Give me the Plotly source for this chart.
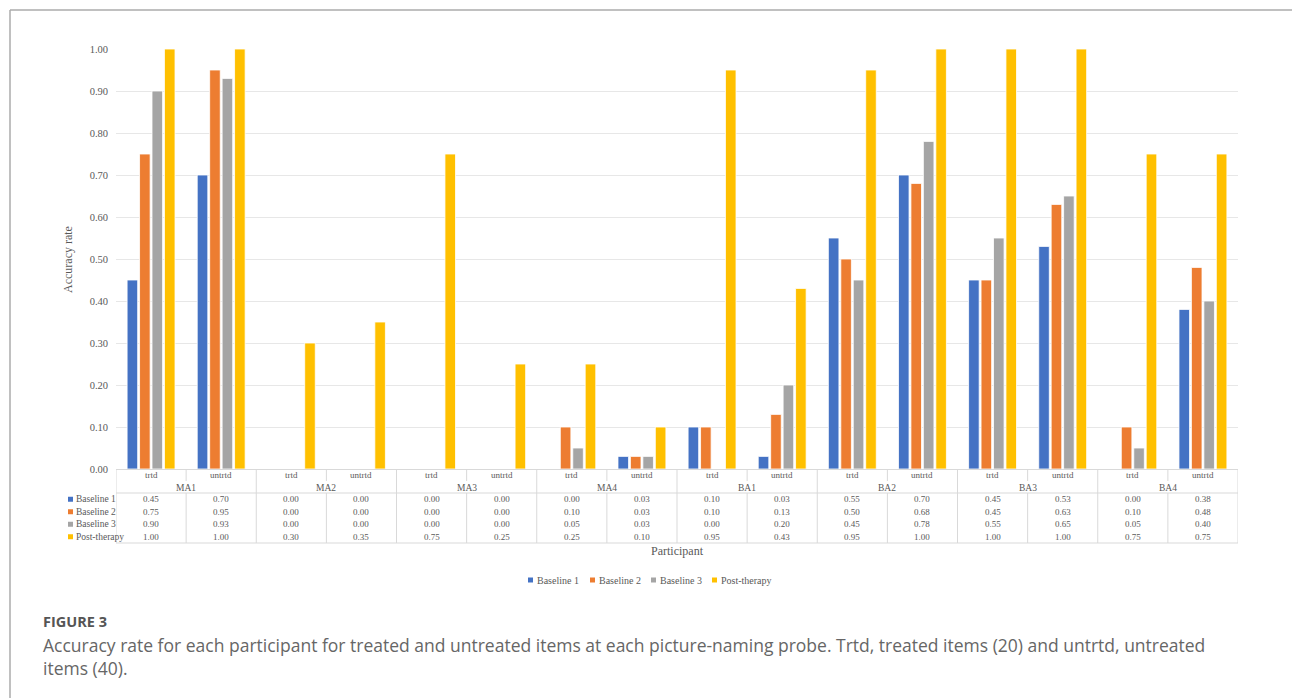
import plotly.graph_objects as go

# ---- data ---------------------------------------------------------------
participants = ["MA1", "MA2", "MA3", "MA4", "BA1", "BA2", "BA3", "BA4"]
conditions = ["trtd", "untrtd"]
series_names = ["Baseline 1", "Baseline 2", "Baseline 3", "Post-therapy"]

baseline_1 = [0.45, 0.70, 0.00, 0.00, 0.00, 0.00, 0.00, 0.03,
              0.10, 0.03, 0.55, 0.70, 0.45, 0.53, 0.00, 0.38]
baseline_2 = [0.75, 0.95, 0.00, 0.00, 0.00, 0.00, 0.10, 0.03,
              0.10, 0.13, 0.50, 0.68, 0.45, 0.63, 0.10, 0.48]
baseline_3 = [0.90, 0.93, 0.00, 0.00, 0.00, 0.00, 0.05, 0.03,
              0.00, 0.20, 0.45, 0.78, 0.55, 0.65, 0.05, 0.40]
post_therapy = [1.00, 1.00, 0.30, 0.35, 0.75, 0.25, 0.25, 0.10,
                0.95, 0.43, 0.95, 1.00, 1.00, 1.00, 0.75, 0.75]

y_ticks = [0.0, 0.1, 0.2, 0.3, 0.4, 0.5, 0.6, 0.7, 0.8, 0.9, 1.0]

series_values = [baseline_1, baseline_2, baseline_3, post_therapy]
colors = ["#4472C4", "#ED7D31", "#A5A5A5", "#FFC000"]

# ---- geometry helpers (page pixels -> paper coordinates) ----------------
W, H = 1292, 698
L, R, T, B = 116, 54, 49, 229
PW, PH = W - L - R, H - T - B
n_cols = len(participants) * len(conditions)
col_px = PW / n_cols


def px(xp):
    return (xp - L) / PW


def py(yp):
    return (H - B - yp) / PH


def xd(xp):
    # page pixel -> x data coordinate
    return (xp - L) / col_px - 0.5


x_pos = list(range(n_cols))
cond_labels = [conditions[i % 2] for i in x_pos]

TEXT = "#595959"
LINE = "#D9D9D9"
SERIF = "Liberation Serif"

fig = go.Figure()
for name, vals, col in zip(series_names, series_values, colors):
    fig.add_trace(go.Bar(
        x=x_pos, y=vals, name=name,
        marker=dict(color=col, line=dict(color="white", width=0.8)),
        showlegend=False,
    ))

shapes = []
annotations = []


def hline(x0, x1, yp, xref="x"):
    shapes.append(dict(type="line", xref=xref, yref="paper", x0=x0, x1=x1,
                       y0=py(yp), y1=py(yp), line=dict(color=LINE, width=1)))


def vline(x, y0p, y1p, xref="x"):
    shapes.append(dict(type="line", xref=xref, yref="paper", x0=x, x1=x,
                       y0=py(y0p), y1=py(y1p), line=dict(color=LINE, width=1)))


def label(x, yp, text, size, xref="x", xanchor="center", **kw):
    annotations.append(dict(x=x, y=py(yp), xref=xref, yref="paper", text=text,
                            showarrow=False, xanchor=xanchor, yanchor="middle",
                            font=dict(family=kw.pop("family", SERIF), size=size,
                                      color=kw.pop("color", TEXT)), **kw))


# ---- data table under the axis -----------------------------------------
top, mid, hdr, bot = 469.5, 481, 493, 543
row_h = (bot - hdr) / len(series_names)
left_px = 65

hline(-0.5, n_cols - 0.5, top)
hline(xd(left_px), n_cols - 0.5, hdr)
hline(xd(left_px), n_cols - 0.5, bot)
vline(xd(left_px), hdr, bot)
for k in range(len(participants) + 1):
    vline(2 * k - 0.5, top, bot)
for k in range(len(participants)):
    vline(2 * k + 0.5, top, mid)
    vline(2 * k + 0.5, hdr, bot)

for i in x_pos:
    label(i, (top + mid) / 2, cond_labels[i], 9)
for k, p in enumerate(participants):
    label(2 * k + 0.5, (mid + hdr) / 2 + 0.5, p, 9.5)
for r, (name, vals, col) in enumerate(zip(series_names, series_values, colors)):
    yc = hdr + row_h * (r + 0.5)
    shapes.append(dict(type="rect", xref="paper", yref="paper",
                       x0=px(68), x1=px(73), y0=py(yc + 2.5), y1=py(yc - 2.5),
                       fillcolor=col, line=dict(width=0)))
    label(px(73.5), yc, name, 9.5, xref="paper", xanchor="left")
    for i, v in enumerate(vals):
        label(i, yc, f"{v:.2f}", 9)

# axis titles
annotations.append(dict(x=px(68), y=py(260), xref="paper", yref="paper",
                        xanchor="center", yanchor="middle",
                        text="Accuracy rate", textangle=-90, showarrow=False,
                        font=dict(family=SERIF, size=12, color=TEXT)))
label(0.5, 551, "Participant", 12, xref="paper")

# ---- legend below the table ---------------------------------------------
legend_x = [528, 590, 651, 712]
for lx, name, col in zip(legend_x, series_names, colors):
    shapes.append(dict(type="rect", xref="paper", yref="paper",
                       x0=px(lx), x1=px(lx + 5), y0=py(582.5), y1=py(577.5),
                       fillcolor=col, line=dict(width=0)))
    label(px(lx + 6.5), 580, name, 10, xref="paper", xanchor="left")

# ---- card frame and caption --------------------------------------------
frame = dict(color="#ABABAB", width=1.5)
shapes.append(dict(type="line", xref="paper", yref="paper", x0=px(10), x1=px(W),
                   y0=py(10), y1=py(10), line=frame))
shapes.append(dict(type="line", xref="paper", yref="paper", x0=px(10), x1=px(10),
                   y0=py(10), y1=py(H), line=frame))

label(px(41), 621, "<b>FIGURE 3</b>", 14.5, xref="paper", xanchor="left",
      family="Open Sans", color="#555555")
caption_lines = [
    "Accuracy rate for each participant for treated and untreated items at each "
    "picture-naming probe. Trtd, treated items (20) and untrtd, untreated",
    "items (40).",
]
for j, line in enumerate(caption_lines):
    label(px(41), 645 + 23 * j, line, 17.5, xref="paper", xanchor="left",
          family="Open Sans", color="#666666")

fig.update_layout(
    width=W, height=H,
    margin=dict(l=L, r=R, t=T, b=B),
    paper_bgcolor="white", plot_bgcolor="white",
    barmode="group", bargap=0.29, bargroupgap=0.15,
    shapes=shapes, annotations=annotations,
    xaxis=dict(range=[-0.5, n_cols - 0.5], showticklabels=False, showgrid=False,
               zeroline=False, showline=False, ticks=""),
    yaxis=dict(range=[0, 1.0], tickvals=y_ticks, tickformat=".2f",
               showgrid=True, gridcolor="#E7E7E7", gridwidth=1, zeroline=False,
               showline=False, ticks="", ticklabelstandoff=7,
               tickfont=dict(family=SERIF, size=10.5, color=TEXT)),
)

fig.write_html("out.html")
